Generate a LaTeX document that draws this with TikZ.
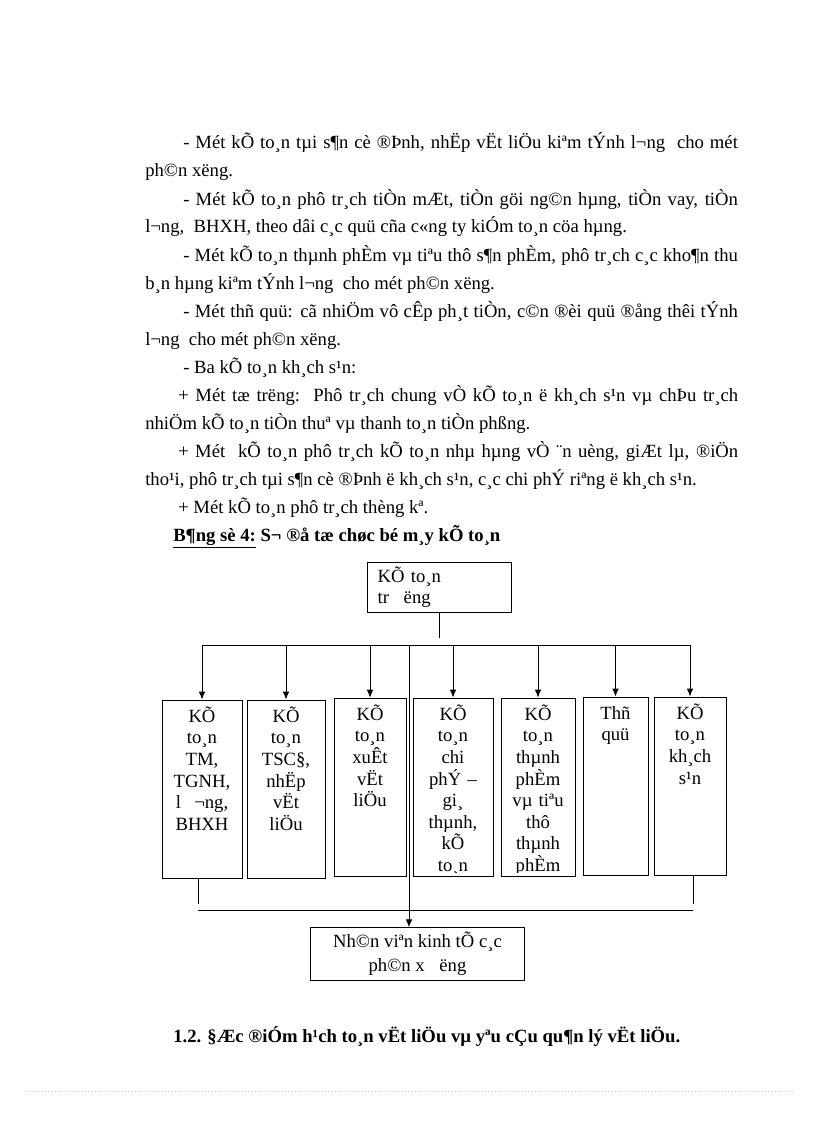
\documentclass[tikz,border=0pt]{standalone}
\usepackage{fontspec}
\setmainfont{Liberation Serif}
\usepackage{tikz}
\usetikzlibrary{arrows.meta}
\tikzstyle{link}=[line width=0.7pt]
\tikzstyle{unit}=[%
  draw,
  line width=0.7pt,
  inner sep=0pt
]
\tikzstyle{unitname}=[%
  anchor=base,
  inner sep=0pt,
  text width=52pt,
  align=center,
  font=\fontsize{14}{16.2}\selectfont
]
\tikzstyle{chief}=[%
  draw,
  line width=0.7pt,
  minimum height=37.5pt,
  inner xsep=8pt,
  text width=92pt,
  align=left,
  font=\fontsize{14}{16}\selectfont
]
\tikzstyle{staff}=[%
  draw,
  line width=0.7pt,
  minimum width=160pt,
  minimum height=39pt,
  align=center,
  font=\fontsize{14}{18}\selectfont
]
\tikzstyle{bodyline}=[anchor=base west, inner sep=0pt, font=\fontsize{14}{16}\selectfont]

\begin{document}
\begin{tikzpicture}[x=0.75pt, y=-0.75pt]
    \useasboundingbox (0,0) rectangle (816,1123);

    % text above the chart
    \node[bodyline] (l1) at (183,149) {\makebox[416pt][s]{- Mét kÕ to¸n tµi s¶n cè ®Þnh, nhËp vËt liÖu kiªm tÝnh l¬ng\ \ cho mét}};
    \node[bodyline] (l2) at (145,177) {ph©n xëng.};
    \node[bodyline] (l3) at (183,205) {\makebox[416pt][s]{- Mét kÕ to¸n phô tr¸ch tiÒn mÆt, tiÒn göi ng©n hµng, tiÒn vay, tiÒn}};
    \node[bodyline] (l4) at (145,233) {l¬ng,\ \ BHXH, theo dâi c¸c quü cña c«ng ty kiÓm to¸n cöa hµng.};
    \node[bodyline] (l5) at (183,261) {\makebox[416pt][s]{- Mét kÕ to¸n thµnh phÈm vµ tiªu thô s¶n phÈm, phô tr¸ch c¸c kho¶n thu}};
    \node[bodyline] (l6) at (145,289) {b¸n hµng kiªm tÝnh l¬ng\ \ cho mét ph©n xëng.};
    \node[bodyline] (l7) at (183,317) {\makebox[416pt][s]{- Mét thñ quü: cã nhiÖm vô cÊp ph¸t tiÒn, c©n ®èi quü ®ång thêi tÝnh}};
    \node[bodyline] (l8) at (145,345) {l¬ng\ \ cho mét ph©n xëng.};
    \node[bodyline] (l9) at (183,373) {- Ba kÕ to¸n kh¸ch s¹n:};
    \node[bodyline] (l10) at (178,401) {\makebox[420pt][s]{+ Mét tæ trëng:\ \ Phô tr¸ch chung vÒ kÕ to¸n ë kh¸ch s¹n vµ chÞu tr¸ch}};
    \node[bodyline] (l11) at (145,429) {nhiÖm kÕ to¸n tiÒn thuª vµ thanh to¸n tiÒn phßng.};
    \node[bodyline] (l12) at (178,457) {\makebox[420pt][s]{+ Mét\ \ kÕ to¸n phô tr¸ch kÕ to¸n nhµ hµng vÒ ¨n uèng, giÆt lµ, ®iÖn}};
    \node[bodyline] (l13) at (145,485) {tho¹i, phô tr¸ch tµi s¶n cè ®Þnh ë kh¸ch s¹n, c¸c chi phÝ riªng ë kh¸ch s¹n.};
    \node[bodyline] (l14) at (178,513) {+ Mét kÕ to¸n phô tr¸ch thèng kª.};
    \node[bodyline] (l15) at (173,541) {\bfseries\underline{B¶ng sè 4:} S¬ ®å tæ chøc bé m¸y kÕ to¸n};

    % chart
    \node[chief] (boss) at (439,587) {KÕ to¸n\\tr\hspace{11pt}ëng};
    \node[unit, minimum width=60pt, minimum height=133.5pt] (tm) at (202,789) {};
    \node[unit, minimum width=58.5pt, minimum height=133.5pt] (ts) at (286,789) {};
    \node[unit, minimum width=54pt, minimum height=134pt] (xu) at (370,787.5) {};
    \node[unit, minimum width=60pt, minimum height=133.5pt] (cp) at (453,787) {};
    \node[unit, minimum width=55.5pt, minimum height=133.5pt] (tp) at (538,787) {};
    \node[unit, minimum width=48.75pt, minimum height=133.5pt] (tq) at (615.5,786) {};
    \node[unit, minimum width=54pt, minimum height=133.5pt] (ks) at (690,786) {};
    \node[staff] (nv) at (417.5,954) {Nh©n viªn kinh tÕ c¸c\\ph©n x\hspace{11pt}ëng};

    \coordinate (busL) at (202,645);
    \coordinate (busR) at (690,645);
    \coordinate (drop) at (409,645);
    \coordinate (joinL) at (198,910);
    \coordinate (joinR) at (693,910);

    \draw[link] (boss.south) -- ++(0,26);
    \draw[link] (busL) -- (busR);
    \foreach \b in {tm,ts,xu,cp,tp,tq,ks} {%
      \draw[link, -{Latex[length=6pt,width=5pt]}] (\b.north |- busL) -- (\b.north);
    }
    \draw[link, -{Latex[length=6pt,width=5pt]}] (drop) -- (drop |- nv.north);
    \draw[link] (joinL |- tm.south) -- ++(0,26);
    \draw[link] (joinR |- ks.south) -- ++(0,29);
    \draw[link] (joinL) -- (joinR);

    \begin{scope}
      \clip (0,690) rectangle (816,872);
      \foreach \b/\t in {tm/{KÕ\\to¸n\\TM,\\TGNH,\\l\hspace{10pt}¬ng,\\BHXH},
                         ts/{KÕ\\to¸n\\TSC§,\\nhËp\\vËt\\liÖu},
                         xu/{KÕ\\to¸n\\xuÊt\\vËt\\liÖu},
                         cp/{KÕ\\to¸n\\chi\\phÝ –\\gi¸\\thµnh,\\kÕ\\to¸n},
                         tp/{KÕ\\to¸n\\thµnh\\phÈm\\vµ tiªu\\thô\\thµnh\\phÈm},
                         tq/{Thñ\\quü},
                         ks/{KÕ\\to¸n\\kh¸ch\\s¹n}} {%
        \node[unitname] (\b-name) at ([yshift=-17pt]\b.north) {\t};
      }
    \end{scope}

    % text below the chart
    \node[bodyline] (l16) at (173,1042) {\bfseries 1.2. §Æc ®iÓm h¹ch to¸n vËt liÖu vµ yªu cÇu qu¶n lý vËt liÖu.};
    \draw[gray!40, dotted, line width=0.5pt] (25,1091) -- (795,1091);
\end{tikzpicture}
\end{document}
